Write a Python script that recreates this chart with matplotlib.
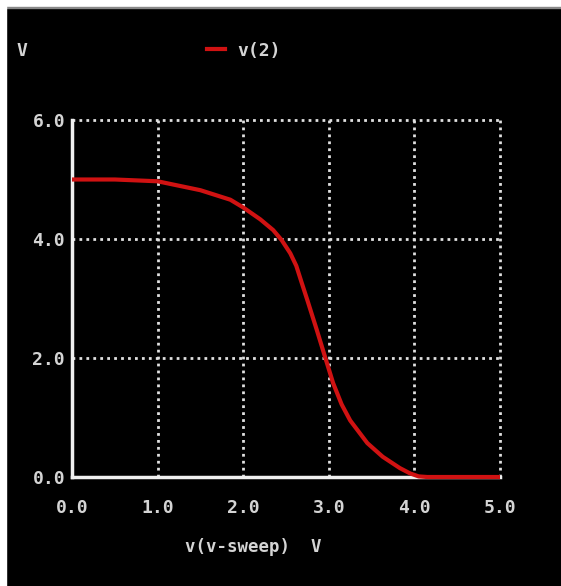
import matplotlib
matplotlib.use("Agg")
import matplotlib.pyplot as plt
from matplotlib.patches import Rectangle

x_vals = [0.0, 0.5, 1.0, 1.5, 1.85, 2.0, 2.2, 2.35, 2.45, 2.55, 2.62, 2.68, 2.75, 2.86, 2.96, 3.05, 3.15, 3.25, 3.45, 3.63, 3.83, 3.95, 4.05, 4.15, 4.5, 5.0]
v2_vals = [5.0, 5.0, 4.97, 4.82, 4.66, 4.53, 4.33, 4.15, 3.98, 3.76, 3.55, 3.28, 2.97, 2.47, 2.0, 1.58, 1.22, 0.95, 0.57, 0.34, 0.15, 0.06, 0.01, 0.0, 0.0, 0.0]
x_ticks = [0, 1, 2, 3, 4, 5]
y_ticks = [0, 2, 4, 6]
x_ticklabels = ["0.0", "1.0", "2.0", "3.0", "4.0", "5.0"]
y_ticklabels = ["0.0", "2.0", "4.0", "6.0"]

W, H = 561, 586
fig = plt.figure(figsize=(W / 100, H / 100), dpi=100, facecolor="black")
# white margins on top and left
fig.patches.append(Rectangle((0, 1 - 7 / H), 1, 7 / H, transform=fig.transFigure, color="white", zorder=0))
fig.patches.append(Rectangle((0, 1 - 8 / H), 1, 1.5 / H, transform=fig.transFigure, color="#888888", zorder=0))
fig.patches.append(Rectangle((0, 0), 6 / W, 1, transform=fig.transFigure, color="white", zorder=0))

left, right = 72 / W, 500 / W
bottom, top = (H - 477) / H, (H - 120) / H
ax = fig.add_axes([left, bottom, right - left, top - bottom])
ax.set_facecolor("black")
ax.set_xlim(0, 5)
ax.set_ylim(0, 6)

txt = "#d4d4d4"
font = dict(family="DejaVu Sans Mono", fontsize=13, color=txt, fontweight="bold")

# dotted grid
for xv in x_ticks[1:]:
    ax.plot([xv, xv], [0, 6], color="#e0e0e0", lw=2, linestyle=(0, (1, 1.5)), zorder=1, clip_on=False)
for yv in y_ticks[1:]:
    ax.plot([0, 5], [yv, yv], color="#e0e0e0", lw=2, linestyle=(0, (1, 1.5)), zorder=1, clip_on=False)

for s in ["top", "right"]:
    ax.spines[s].set_visible(False)
for s in ["left", "bottom"]:
    ax.spines[s].set_color("#f0f0f0")
    ax.spines[s].set_linewidth(2.5)
    ax.spines[s].set_zorder(2)

ax.plot(x_vals, v2_vals, color="#d01212", lw=3, zorder=3, clip_on=False, solid_capstyle="butt", solid_joinstyle="round")

ax.set_xticks(x_ticks)
ax.set_yticks(y_ticks)
ax.set_xticklabels(x_ticklabels, **font)
ax.set_yticklabels(y_ticklabels, **font)
ax.tick_params(axis="x", length=0, pad=16)
ax.tick_params(axis="y", length=0, pad=5)

fig.text(185 / W, 1 - 547 / H, "v(v-sweep)  V", ha="left", va="center", family="DejaVu Sans Mono", fontsize=12.5, color=txt, fontweight="bold")
fig.text(22 / W, 1 - 51 / H, "V", ha="center", va="center", **font)
fig.text(237 / W, 1 - 51 / H, "v(2)", ha="left", va="center", **font)
fig.lines.append(plt.Line2D([207 / W, 225 / W], [1 - 49 / H, 1 - 49 / H], transform=fig.transFigure, color="#d01212", lw=3))

fig.savefig("out.png", dpi=100, facecolor="black")
